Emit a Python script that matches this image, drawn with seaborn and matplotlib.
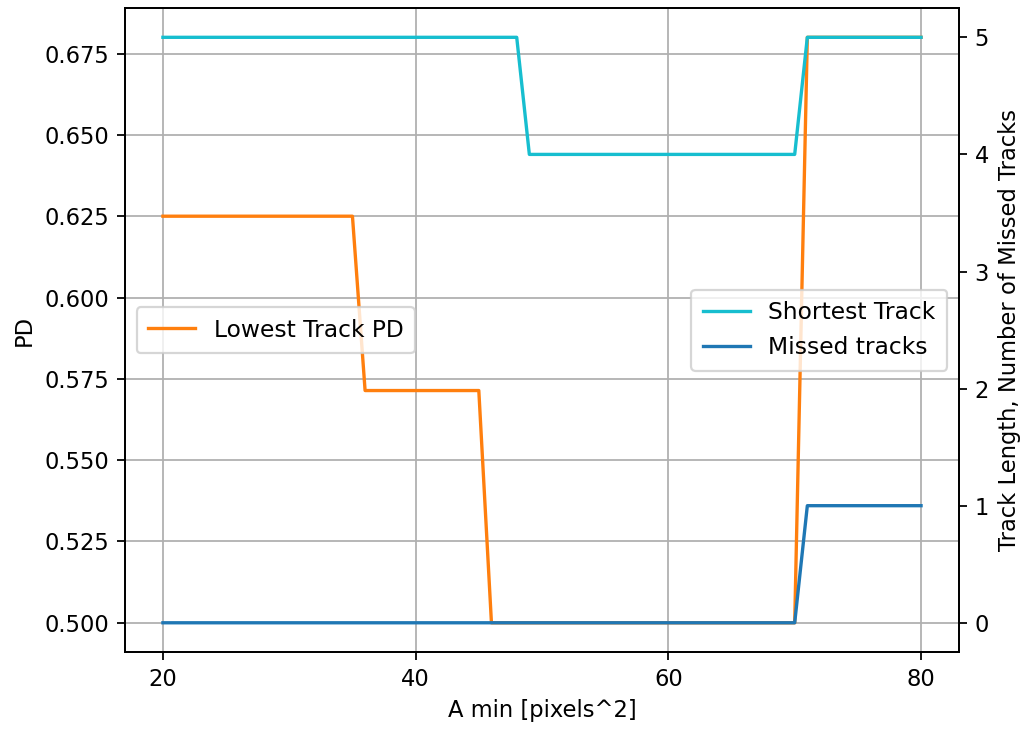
import matplotlib
matplotlib.use("Agg")
import matplotlib.pyplot as plt
import seaborn as sns
import pandas as pd

# A min values (pixels^2)
a_min = list(range(20, 81))

lowest_pd = ([0.625] * 16 + [0.5714] * 10 + [0.5] * 25 + [0.68] * 10)
shortest_track = ([5] * 29 + [4] * 22 + [5] * 10)
missed_tracks = ([0] * 51 + [1] * 10)

df = pd.DataFrame({
    'a_min': a_min,
    'lowest_pd': lowest_pd,
    'shortest': shortest_track,
    'missed': missed_tracks,
})

plt.rcParams['font.size'] = 10.2

fig = plt.figure(figsize=(1023 / 160, 731 / 160), dpi=160)
ax1 = fig.add_axes([0.1222, 0.108, 0.8152, 0.881])

sns.lineplot(data=df, x='a_min', y='lowest_pd', color='tab:orange',
             label='Lowest Track PD', ax=ax1)
ax1.set_xlabel('A min [pixels^2]')
ax1.set_ylabel('PD')
ax1.set_xlim(17, 83)
ax1.set_ylim(0.491, 0.689)
ax1.set_xticks([20, 40, 60, 80])
ax1.set_yticks([0.5, 0.525, 0.55, 0.575, 0.6, 0.625, 0.65, 0.675])
ax1.set_yticklabels(['0.500', '0.525', '0.550', '0.575', '0.600', '0.625', '0.650', '0.675'])
ax1.grid(True, color='#b0b0b0', linewidth=0.8)
ax1.legend(loc='center left', fontsize=10.5, borderpad=0.5)

ax2 = ax1.twinx()
sns.lineplot(data=df, x='a_min', y='shortest', color='tab:cyan',
             label='Shortest Track', ax=ax2)
sns.lineplot(data=df, x='a_min', y='missed', color='tab:blue',
             label='Missed tracks', ax=ax2)
ax2.set_ylim(-0.25, 5.25)
ax2.set_ylabel('Track Length, Number of Missed Tracks')
ax2.legend(loc='center right', fontsize=10.5, borderpad=0.5)

fig.savefig('out.png', dpi=160)
